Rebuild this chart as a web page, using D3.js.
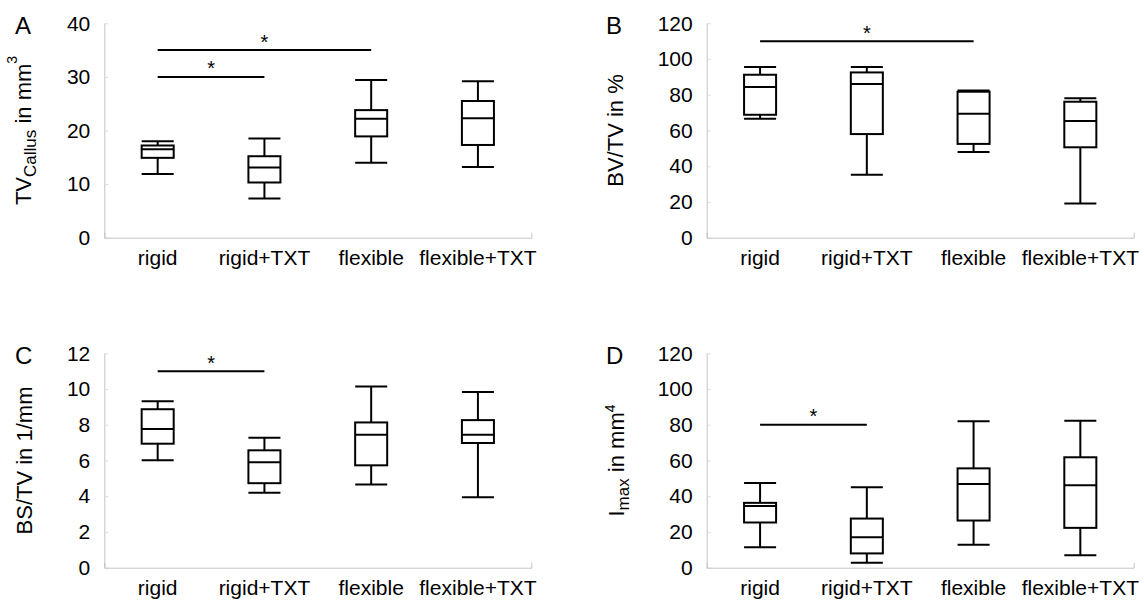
<!DOCTYPE html>
<html>
<head>
<meta charset="utf-8">
<script src="https://cdn.jsdelivr.net/npm/d3@7"></script>
<style>
  body { margin: 0; background: #fff; }
  svg { display: block; }
</style>
</head>
<body>
<div id="chart"></div>
<script>
var width  = 1144,
    height = 604,
    font   = "Arial, 'Liberation Sans', sans-serif";

// Data
//-----------------------------------------------------
var groups = ["rigid", "rigid+TXT", "flexible", "flexible+TXT"];

// each box: [min, q1, median, q3, max]
var tvCallus = [
    [11.9, 14.9, 16.5, 17.2, 18.0],
    [7.3, 10.3, 13.1, 15.2, 18.5],
    [14.0, 18.9, 22.2, 23.8, 29.4],
    [13.2, 17.3, 22.3, 25.5, 29.2]
];
var bvTv = [
    [66.6, 68.8, 84.3, 91.2, 95.6],
    [35.2, 58.0, 86.0, 92.5, 95.6],
    [48.0, 52.5, 69.4, 81.7, 82.4],
    [19.2, 50.6, 65.3, 76.1, 78.1]
];
var bsTv = [
    [6.01, 6.94, 7.76, 8.87, 9.32],
    [4.20, 4.73, 5.90, 6.57, 7.27],
    [4.65, 5.73, 7.44, 8.13, 10.14],
    [3.94, 6.98, 7.44, 8.26, 9.84]
];
var iMax = [
    [11.5, 25.3, 34.6, 36.3, 47.4],
    [2.8, 8.0, 17.1, 27.5, 45.0],
    [12.8, 26.4, 46.9, 55.6, 82.0],
    [6.9, 22.3, 46.1, 61.8, 82.2]
];

// significance bars: [from group, to group, level]
var sigA = [[0, 1, 30], [0, 2, 35]];
var sigB = [[0, 2, 110]];
var sigC = [[0, 1, 11]];
var sigD = [[0, 1, 80]];

var ticksA = [0, 10, 20, 30, 40];
var ticksB = [0, 20, 40, 60, 80, 100, 120];
var ticksC = [0, 2, 4, 6, 8, 10, 12];
var ticksD = [0, 20, 40, 60, 80, 100, 120];

// Layout
//-----------------------------------------------------
var colX  = [104.3, 706.7],
    plotW = 427,
    rowY  = [23.3, 353.3],
    plotH = 214.4;

var panels = [
    { letter: "A", col: 0, row: 0, boxes: tvCallus, sig: sigA, ticks: ticksA,
      label: [["TV", 0], ["Callus", "sub"], [" in mm", 0], ["3", "sup"]], lx: 31, supUp: 14 },
    { letter: "B", col: 1, row: 0, boxes: bvTv, sig: sigB, ticks: ticksB,
      label: [["BV/TV in %", 0]], lx: 623 },
    { letter: "C", col: 0, row: 1, boxes: bsTv, sig: sigC, ticks: ticksC,
      label: [["BS/TV in 1/mm", 0]], lx: 32 },
    { letter: "D", col: 1, row: 1, boxes: iMax, sig: sigD, ticks: ticksD,
      label: [["I", 0], ["max", "sub"], [" in mm", 0], ["4", "sup"]], lx: 624, supUp: 9 }
];

var svg = d3.select("#chart").append("svg")
    .attr("width", width)
    .attr("height", height)
    .style("font-family", font);

panels.forEach(drawPanel);

function drawPanel(p) {
    var x0 = colX[p.col], y0 = rowY[p.row];

    var x = d3.scaleBand()
        .domain(groups)
        .range([x0, x0 + plotW]);
    var y = d3.scaleLinear()
        .domain([0, d3.max(p.ticks)])
        .range([y0 + plotH, y0]);
    var bw = x.bandwidth() * 0.3;

    var g = svg.append("g");

    // axes
    var gy = g.append("g")
        .attr("transform", "translate(" + x0 + ",0)")
        .call(d3.axisLeft(y).tickValues(p.ticks).tickSize(-4).tickSizeOuter(0).tickPadding(14));
    var gx = g.append("g")
        .attr("transform", "translate(0," + (y0 + plotH) + ")")
        .call(d3.axisBottom(x).tickSize(0).tickSizeOuter(-5).tickPadding(12));

    [gx, gy].forEach(function(a) {
        a.attr("font-family", font).attr("font-size", 21);
        a.selectAll("text").attr("fill", "#000");
        a.select(".domain").attr("stroke", "#c4c4c4");
        a.selectAll(".tick line").attr("stroke", "#dcdcdc");
    });

    // boxes
    var box = g.selectAll("g.box")
        .data(p.boxes)
        .enter()
        .append("g")
        .attr("class", "box")
        .attr("transform", function(d, i) {
            return "translate(" + (x(groups[i]) + x.bandwidth() / 2) + ",0)";
        })
        .attr("stroke", "#000")
        .attr("stroke-width", 2)
        .attr("fill", "none");

    box.append("line")
        .attr("y1", function(d) { return y(d[0]); })
        .attr("y2", function(d) { return y(d[1]); });
    box.append("line")
        .attr("y1", function(d) { return y(d[3]); })
        .attr("y2", function(d) { return y(d[4]); });
    box.append("line")
        .attr("x1", -bw / 2).attr("x2", bw / 2)
        .attr("y1", function(d) { return y(d[0]); })
        .attr("y2", function(d) { return y(d[0]); });
    box.append("line")
        .attr("x1", -bw / 2).attr("x2", bw / 2)
        .attr("y1", function(d) { return y(d[4]); })
        .attr("y2", function(d) { return y(d[4]); });
    box.append("rect")
        .attr("x", -bw / 2)
        .attr("width", bw)
        .attr("y", function(d) { return y(d[3]); })
        .attr("height", function(d) { return y(d[1]) - y(d[3]); })
        .attr("fill", "#fff");
    box.append("line")
        .attr("x1", -bw / 2).attr("x2", bw / 2)
        .attr("y1", function(d) { return y(d[2]); })
        .attr("y2", function(d) { return y(d[2]); });

    // significance bars
    var cx = function(i) { return x(groups[i]) + x.bandwidth() / 2; };
    var sig = g.selectAll("g.sig")
        .data(p.sig)
        .enter()
        .append("g")
        .attr("class", "sig");
    sig.append("line")
        .attr("x1", function(d) { return cx(d[0]); })
        .attr("x2", function(d) { return cx(d[1]); })
        .attr("y1", function(d) { return y(d[2]); })
        .attr("y2", function(d) { return y(d[2]); })
        .attr("stroke", "#000")
        .attr("stroke-width", 2);
    sig.append("text")
        .attr("x", function(d) { return (cx(d[0]) + cx(d[1])) / 2; })
        .attr("y", function(d) { return y(d[2]) - 1.5; })
        .attr("text-anchor", "middle")
        .attr("font-size", 20)
        .text("*");

    // y label, with sub/superscripts
    var lab = g.append("text")
        .attr("transform", "translate(" + p.lx + "," + (y0 + plotH / 2) + ") rotate(-90)")
        .attr("text-anchor", "middle")
        .attr("font-size", 22);
    var shift = 0;
    p.label.forEach(function(part) {
        var t = lab.append("tspan").text(part[0]);
        var target = part[1] == "sub" ? 5 : part[1] == "sup" ? -p.supUp : 0;
        if (part[1] == "sub") t.attr("font-size", 17);
        if (part[1] == "sup") t.attr("font-size", 14);
        t.attr("dy", target - shift);
        shift = target;
    });

    // panel letter
    g.append("text")
        .attr("x", p.col ? 606 : 15)
        .attr("y", y0 + 10.7)
        .attr("font-size", 24)
        .text(p.letter);
}
</script>
</body>
</html>
